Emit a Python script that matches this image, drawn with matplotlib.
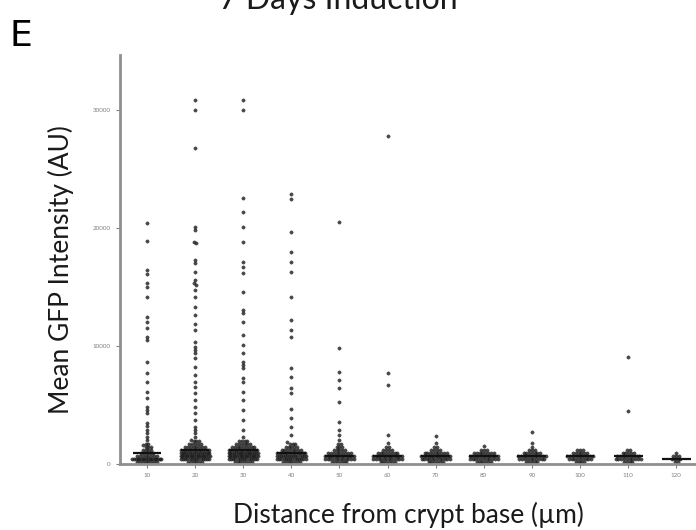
import matplotlib
matplotlib.use("Agg")
import matplotlib.pyplot as plt
import numpy as np

plt.rcParams['font.family'] = ['Lato', 'DejaVu Sans']

distances = [10, 20, 30, 40, 50, 60, 70, 80, 90, 100, 110, 120]

# scattered cells (one value each)
spread_10 = [20410, 18890, 16430, 16090, 15330, 14990, 14140, 12450, 12030, 11520,
             10760, 10500, 8640, 7710, 6950, 6100, 5590, 4830, 4570, 4320,
             3470, 3220, 2880, 2630, 2290, 2030, 1610]
spread_20 = [30900, 30070, 26770, 20070, 19820, 18800, 18720, 17280, 17020, 16260,
             15580, 15330, 15160, 14740, 14140, 13300, 12620, 11860, 11350, 10330,
             9910, 9660, 9400, 8980, 8220, 7540, 6950, 6520, 6010, 5420,
             4830, 4320, 3730, 3130, 2880, 2630, 2290, 2030]
spread_30 = [30900, 30070, 22530, 21340, 20070, 18800, 17110, 16690, 16180, 14570,
             13040, 12790, 12030, 10930, 10080, 9400, 8640, 8390, 8130, 7280,
             6950, 6100, 5420, 4570, 3730, 2880, 2290]
spread_40 = [22870, 22450, 19650, 17960, 17110, 16260, 14140, 12200, 11350, 10760,
             8130, 7370, 6440, 6010, 4660, 3900, 3130, 2460, 1860]
spread_50 = [20500, 9830, 7790, 7110, 6440, 5250, 3560, 2880, 2460, 2030]
spread_60 = [27870, 7710, 6690, 2460, 1780]
spread_70 = [2370, 1780]
spread_80 = [1530]
spread_90 = [2710, 1780]
spread_100 = [1190]
spread_110 = [9060, 4490]
spread_120 = []

# dense part near the base: value levels and how many cells sit at each
levels = [200, 450, 700, 950, 1200, 1450, 1700, 1950]
counts_10 = [8, 18, 8, 5, 4, 3, 2, 0]
counts_20 = [6, 14, 18, 16, 12, 8, 5, 3]
counts_30 = [7, 14, 18, 17, 13, 9, 6, 4]
counts_40 = [7, 14, 15, 12, 8, 5, 3, 0]
counts_50 = [6, 12, 13, 9, 5, 3, 2, 0]
counts_60 = [6, 12, 13, 8, 4, 2, 0, 0]
counts_70 = [6, 12, 13, 9, 4, 2, 0, 0]
counts_80 = [6, 11, 12, 8, 3, 0, 0, 0]
counts_90 = [5, 10, 11, 7, 3, 1, 0, 0]
counts_100 = [4, 9, 10, 6, 2, 0, 0, 0]
counts_110 = [4, 10, 9, 5, 2, 0, 0, 0]
counts_120 = [2, 4, 3, 1, 0, 0, 0, 0]

spreads = [spread_10, spread_20, spread_30, spread_40, spread_50, spread_60,
           spread_70, spread_80, spread_90, spread_100, spread_110, spread_120]
counts = [counts_10, counts_20, counts_30, counts_40, counts_50, counts_60,
          counts_70, counts_80, counts_90, counts_100, counts_110, counts_120]


def column_layout(vals, row_h=250, step=0.058, max_w=0.64):
    # prism-style: points falling in the same row are put side by side
    vals = np.asarray(vals, dtype=float)
    rows = np.round(vals / row_h).astype(int)
    offs = np.zeros(len(vals))
    for r in np.unique(rows):
        idx = np.where(rows == r)[0]
        n = len(idx)
        s = min(step, max_w / n)
        offs[idx] = (np.arange(n) - (n - 1) / 2.0) * s
    return offs


fig = plt.figure(figsize=(6.96, 5.30), dpi=100)
ax = fig.add_axes([0.1724, 0.1245, 0.8276, 0.7717])

for i in range(len(distances)):
    vals = np.concatenate([np.array(spreads[i], dtype=float),
                           np.repeat(levels, counts[i]).astype(float)])
    offs = column_layout(vals)
    ax.plot(i + offs, vals, 'o', ms=2.4, mfc='#1e1e1e', mec='#1e1e1e',
            mew=0.3, alpha=0.8, ls='none', clip_on=False)
    med = np.median(vals)
    ax.hlines(med, i - 0.3, i + 0.3, color='#111111', lw=1.6)

ax.set_xlim(-0.56, 11.41)
ax.set_ylim(0, 34700)
ax.set_xticks(range(len(distances)))
ax.set_xticklabels([str(d) for d in distances])
ax.set_yticks([0, 10000, 20000, 30000])
ax.set_yticklabels(['0', '10000', '20000', '30000'])
ax.tick_params(axis='both', labelsize=4.5, colors='#808080', length=3, width=0.8)

for side in ['top', 'right']:
    ax.spines[side].set_visible(False)
for side in ['left', 'bottom']:
    ax.spines[side].set_color('#8f8f8f')
    ax.spines[side].set_linewidth(2.0)

fig.text(0.087, 0.491, 'Mean GFP Intensity (AU)', rotation=90, ha='center',
         va='center', fontsize=19, color='#1a1a1a')
fig.text(0.587, 0.028, 'Distance from crypt base (\u00b5m)', ha='center',
         va='center', fontsize=19, color='#1a1a1a')
fig.text(0.486, 0.983, '7 Days Induction', ha='center', va='baseline',
         fontsize=23, color='#1a1a1a')
fig.text(0.013, 0.932, 'E', ha='left', va='center', fontsize=26,
         color='black', family='DejaVu Sans')

fig.savefig('out.png', dpi=100)
